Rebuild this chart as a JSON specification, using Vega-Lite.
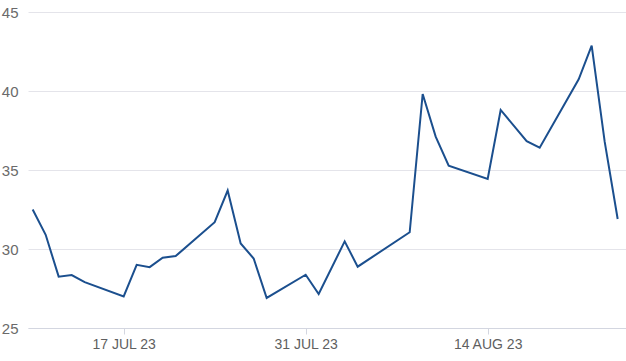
{
  "$schema": "https://vega.github.io/schema/vega-lite/v6.json",
  "autosize": {"type": "none"},
  "padding": {"left": 28, "top": 12, "right": 0, "bottom": 33},
  "width": 598,
  "height": 316,
  "background": "white",
  "data": {
    "values": [
      {"date": "2023-07-10", "value": 32.5},
      {"date": "2023-07-11", "value": 30.9},
      {"date": "2023-07-12", "value": 28.25},
      {"date": "2023-07-13", "value": 28.35},
      {"date": "2023-07-14", "value": 27.9},
      {"date": "2023-07-17", "value": 27.0},
      {"date": "2023-07-18", "value": 29.0},
      {"date": "2023-07-19", "value": 28.85},
      {"date": "2023-07-20", "value": 29.45},
      {"date": "2023-07-21", "value": 29.55},
      {"date": "2023-07-24", "value": 31.7},
      {"date": "2023-07-25", "value": 33.7},
      {"date": "2023-07-26", "value": 30.35},
      {"date": "2023-07-27", "value": 29.4},
      {"date": "2023-07-28", "value": 26.9},
      {"date": "2023-07-31", "value": 28.37},
      {"date": "2023-08-01", "value": 27.15},
      {"date": "2023-08-03", "value": 30.48},
      {"date": "2023-08-04", "value": 28.88},
      {"date": "2023-08-08", "value": 31.06},
      {"date": "2023-08-09", "value": 39.81},
      {"date": "2023-08-10", "value": 37.11},
      {"date": "2023-08-11", "value": 35.27},
      {"date": "2023-08-14", "value": 34.43},
      {"date": "2023-08-15", "value": 38.8},
      {"date": "2023-08-17", "value": 36.82},
      {"date": "2023-08-18", "value": 36.41},
      {"date": "2023-08-21", "value": 40.74},
      {"date": "2023-08-22", "value": 42.87},
      {"date": "2023-08-23", "value": 36.79},
      {"date": "2023-08-24", "value": 31.9}
    ]
  },
  "mark": {"type": "line", "color": "#1b4f8e", "strokeWidth": 2, "clip": true},
  "encoding": {
    "x": {
      "field": "date",
      "type": "temporal",
      "scale": {
        "type": "utc",
        "domain": [
          {"year": 2023, "month": 7, "date": 9, "hours": 15, "minutes": 22, "utc": true},
          {"year": 2023, "month": 8, "date": 24, "hours": 15, "minutes": 22, "utc": true}
        ]
      },
      "axis": {
        "title": null,
        "grid": false,
        "values": [
          {"year": 2023, "month": 7, "date": 17, "utc": true},
          {"year": 2023, "month": 7, "date": 31, "utc": true},
          {"year": 2023, "month": 8, "date": 14, "utc": true}
        ],
        "labelExpr": "upper(utcFormat(datum.value, '%d %b %y'))",
        "domainColor": "#d3d6e0",
        "domainWidth": 1,
        "tickColor": "#d3d6e0",
        "tickSize": 6,
        "labelPadding": 3,
        "labelFont": "Liberation Sans",
        "labelFontSize": 14,
        "labelColor": "#5f5f5f"
      }
    },
    "y": {
      "field": "value",
      "type": "quantitative",
      "scale": {"domain": [25, 45], "nice": false, "zero": false},
      "axis": {
        "title": null,
        "values": [25, 30, 35, 40, 45],
        "domain": false,
        "ticks": false,
        "tickSize": 0,
        "labelPadding": 10,
        "gridColor": "#e4e4ea",
        "gridWidth": 1,
        "labelFont": "Liberation Sans",
        "labelFontSize": 15,
        "labelColor": "#6a6a6a"
      }
    }
  },
  "config": {"view": {"stroke": null}}
}
